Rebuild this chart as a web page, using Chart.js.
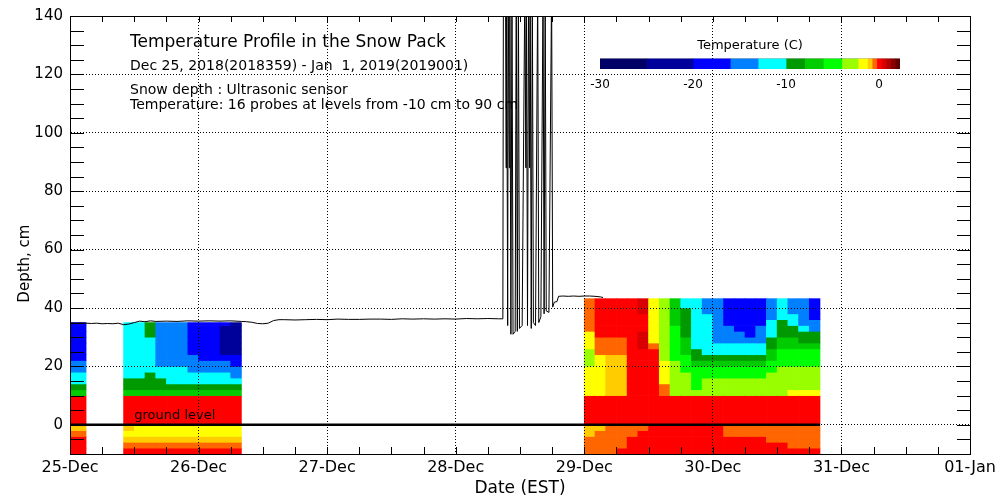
<!DOCTYPE html>
<html>
<head>
<meta charset="utf-8">
<script src="https://cdn.jsdelivr.net/npm/chart.js"></script>
<style>
  html, body { margin: 0; padding: 0; background: #fff; }
  #wrap { position: relative; width: 1000px; height: 500px; }
  #main { position: absolute; left: 0; top: 0; }
  #scale { position: absolute; left: 560px; top: 28px; }
</style>
</head>
<body>
<div id="wrap">
  <canvas id="main" width="1000" height="500"></canvas>
  <canvas id="scale" width="380" height="60"></canvas>
</div>
<script>
Chart.defaults.font.family = "'DejaVu Sans', sans-serif";
Chart.defaults.color = '#000';

// x axis runs in hours from 25-Dec 00:00 EST
const dayLabels = ['25-Dec', '26-Dec', '27-Dec', '28-Dec', '29-Dec', '30-Dec', '31-Dec', '01-Jan'];

// snow depth (ultrasonic), cm
const depthHours = [0, 1, 2, 3, 4, 5, 6, 7, 8, 9, 10, 11, 12, 13, 14, 15, 16, 18, 20, 22,
  24, 26, 28, 30, 32, 33, 34, 35, 36, 37, 38, 39, 40, 42, 44, 46, 48, 50, 52, 54,
  56, 58, 60, 62, 64, 66, 68, 70, 72, 74, 76, 78, 80, 80.8,
  80.9, 81.3, 81.4, 81.5, 81.7, 81.8, 82.0, 82.1, 82.3, 82.5, 82.7, 83.1, 83.3, 83.5, 83.7, 83.9,
  84.4, 84.9, 85.1, 85.2, 85.4, 85.6, 85.8, 85.9, 86.1, 86.3, 86.5, 86.9, 87.3, 87.5, 87.9, 88.3,
  88.5, 88.7, 88.9, 89.4, 89.9, 90.1, 90.4, 90.9, 91.2, 92, 93, 94, 95, 96, 97, 98, 99, 99.5];
const depthCm = [34.9, 34.8, 34.9, 34.8, 34.7, 34.8, 34.6, 34.7, 34.6, 34.8, 34.3, 34.5, 35.0, 35.5, 35.3, 35.6, 35.4, 35.5, 35.4, 35.6,
  35.5, 35.6, 35.5, 35.6, 35.4, 35.3, 35.1, 34.7, 34.6, 34.8, 35.7, 36.0, 36.0, 35.9, 36.0, 36.1, 36.0, 36.2, 36.1, 36.1,
  36.2, 36.2, 36.1, 36.3, 36.2, 36.3, 36.2, 36.3, 36.2, 36.4, 36.3, 36.4, 36.3, 36.3,
  150, 150, 88, 150, 34, 150, 88, 150, 31, 150, 31, 32, 150, 32, 150, 33,
  34, 150, 88, 150, 34, 150, 88, 150, 33, 150, 35, 34, 150, 35, 37, 150,
  38, 150, 39, 38.5, 150, 40.3, 42, 42.2, 44, 44.1, 44, 44.1, 44, 44.1, 44.1, 44, 43.8, 43.6];

const groundHours = [0, 140];

// temperature colour scale, deg C
const tempEdges = [-30, -25, -20, -16, -13, -10, -8, -6, -4, -2.25, -1.25, -0.75, -0.25, 0.25, 0.75, 1.25, 1.75, 2.25];
const tempColors = ['#000066', '#00009a', '#0000ff', '#0080ff', '#00ffff', '#009900', '#00cc00', '#00ff00',
  '#99ff00', '#ffff00', '#ffcc00', '#ff6600', '#ff0000', '#d80000', '#b00000', '#880000', '#600000'];

// block 1: columns (centre hour), layer edges (cm), temperatures bottom -> top
const block1Hours = [0, 2, 11, 13, 15, 17, 19, 21, 23, 25, 27, 29, 31];
const block1Edges = [-10, -8, -6, -4, -2, 0, 10, 12, 14, 16, 18, 20, 22, 24, 26, 28, 30, 32, 34, 35];
const block1Temps = [
  [0, 0, 0, -0.5, -1, 0.1, -7, -9, -11.5, -11.5, -14.5, -14.5, -18, -18, -18, -18, -18, -18, -18],
  [0, 0, 0, -0.5, -1, 0.1, -7, -9, -11.5, -11.5, -14.5, -14.5, -18, -18, -18, -18, -18, -18, -18],
  [0, -0.5, -1, -1.8, -1, 0.1, -7, -9, -9, -11.5, -11.5, -11.5, -11.5, -11.5, -11.5, -11.5, -11.5, -11.5, -11.5],
  [0, -0.5, -1, -1.8, -1.8, 0.1, -7, -9, -9, -11.5, -11.5, -11.5, -11.5, -11.5, -11.5, -11.5, -11.5, -11.5, -11.5],
  [0, -0.5, -1, -1.8, -1.8, 0.1, -7, -9, -9, -9, -11.5, -11.5, -11.5, -11.5, -11.5, -11.5, -9, -9, -9],
  [0, -0.5, -1, -1.8, -1.8, 0.1, -7, -9, -9, -11.5, -11.5, -14.5, -14.5, -14.5, -14.5, -14.5, -14.5, -14.5, -14.5],
  [0, -0.5, -1, -1.8, -1.8, 0.1, -7, -9, -11.5, -11.5, -11.5, -14.5, -14.5, -14.5, -14.5, -14.5, -14.5, -14.5, -14.5],
  [0, -0.5, -1, -1.8, -1.8, 0.1, -7, -9, -11.5, -11.5, -11.5, -14.5, -14.5, -14.5, -14.5, -14.5, -14.5, -14.5, -14.5],
  [0, -0.5, -1, -1.8, -1.8, 0.1, -7, -9, -11.5, -11.5, -14.5, -14.5, -14.5, -18, -18, -18, -18, -18, -18],
  [0, -0.5, -1, -1.8, -1.8, 0.1, -7, -9, -11.5, -11.5, -14.5, -14.5, -18, -18, -18, -18, -18, -18, -18],
  [0, -0.5, -1, -1.8, -1.8, 0.1, -7, -9, -11.5, -11.5, -14.5, -14.5, -18, -18, -18, -18, -18, -18, -18],
  [0, -0.5, -1, -1.8, -1.8, 0.1, -7, -9, -11.5, -11.5, -14.5, -14.5, -18, -22, -22, -22, -22, -22, -18],
  [0, -0.5, -1, -1.8, -1.8, 0.1, -7, -9, -11.5, -14.5, -14.5, -18, -18, -22, -22, -22, -22, -22, -22]
];

// block 2 (from 29-Dec)
const block2Hours = [97, 99, 101, 103, 105, 107, 109, 111, 113, 115, 117, 119, 121, 123, 125, 127, 129, 131, 133, 135, 137, 139];
const block2Edges = [-10, -8, -6, -4, -2, 0, 10, 12, 14, 16, 18, 20, 22, 24, 26, 28, 30, 32, 34, 36, 38, 40, 43.2];
const block2Temps = [
  [-0.5, -0.5, -0.5, -1, -1, 0.1, -1.8, -1.8, -1.8, -1.8, -1.8, -2.5, -2.5, -2.5, -1.8, -1.8, -1.8, -0.5, -0.5, -0.5, -0.5, -0.5],
  [-0.5, -0.5, -0.5, -0.5, -1, 0.1, -1.8, -1.8, -1.8, -1.8, -1.8, -1.8, -1.8, -0.5, -0.5, -0.5, 0, 0, 0, 0, 0, 0],
  [-0.5, -0.5, -0.5, -0.5, -0.5, 0.1, -1, -1, -1, -1, -1, -1, -1, -0.5, -0.5, -0.5, 0, 0, 0, 0, 0, 0],
  [0, -0.5, -0.5, -0.5, -0.5, 0.1, -1, -1, -1, -1, -1, -1, -1, -0.5, -0.5, -0.5, 0, 0, 0, 0, 0, 0],
  [0, 0, 0, -0.5, -0.5, 0.1, 0, 0, 0, 0, 0, 0, 0, 0, 0, 0, 0, 0, 0, 0, 0, 0],
  [0, 0, 0, 0, -0.5, 0.1, 0, 0, 0, 0, 0, 0, 0, 0, 0.5, 0.5, 0.5, 0, 0, 0, 0.5, 0.5],
  [0, 0, 0, 0, 0, 0.1, 0, 0, 0, 0, 0, 0, 0, 0, -0.5, -1.8, -1.8, -1.8, -1.8, -1.8, -1.8, -1.8],
  [0, 0, 0, 0, 0, 0.1, -0.5, -0.5, -1.8, -1.8, -1.8, -1.8, -3.2, -3.2, -3.2, -3.2, -3.2, -3.2, -3.2, -3.2, -3.2, -3.2],
  [0, 0, 0, 0, 0, 0.1, -3.2, -3.2, -3.2, -3.2, -3.2, -3.2, -5, -5, -5, -5, -5, -5, -7, -7, -7, -7],
  [0, 0, 0, 0, 0, 0.1, -3.2, -3.2, -3.2, -3.2, -5, -5, -5, -7, -7, -7, -9, -9, -9, -9, -9, -11.5],
  [0, 0, 0, 0, 0, 0.1, -3.2, -5, -5, -5, -5, -7, -9, -9, -11.5, -11.5, -11.5, -11.5, -11.5, -11.5, -11.5, -11.5],
  [0, 0, 0, 0, 0, 0.1, -3.2, -3.2, -3.2, -5, -5, -7, -9, -11.5, -11.5, -11.5, -11.5, -11.5, -11.5, -11.5, -14.5, -14.5],
  [0, 0, 0, 0, 0, 0.1, -3.2, -3.2, -3.2, -5, -5, -7, -9, -11.5, -11.5, -14.5, -14.5, -14.5, -14.5, -14.5, -14.5, -14.5],
  [0, 0, 0, -0.5, -0.5, 0.1, -3.2, -3.2, -3.2, -5, -5, -7, -9, -11.5, -11.5, -14.5, -14.5, -14.5, -18, -18, -18, -18],
  [0, 0, 0, -0.5, -0.5, 0.1, -3.2, -3.2, -3.2, -5, -5, -7, -9, -11.5, -11.5, -14.5, -14.5, -18, -18, -18, -18, -18],
  [0, 0, 0, -0.5, -0.5, 0.1, -3.2, -3.2, -3.2, -5, -5, -7, -9, -11.5, -11.5, -14.5, -18, -18, -18, -18, -18, -18],
  [0, 0, 0, -0.5, -0.5, 0.1, -3.2, -3.2, -3.2, -5, -5, -7, -9, -11.5, -11.5, -14.5, -14.5, -14.5, -18, -18, -18, -18],
  [0, 0, -0.5, -0.5, -0.5, 0.1, -3.2, -3.2, -3.2, -3.2, -5, -5, -7, -7, -9, -9, -11.5, -11.5, -11.5, -14.5, -14.5, -14.5],
  [0, 0, -0.5, -0.5, -0.5, 0.1, -3.2, -3.2, -3.2, -3.2, -3.2, -5, -5, -5, -7, -7, -9, -9, -9, -11.5, -11.5, -11.5],
  [0, -0.5, -0.5, -0.5, -0.5, 0.1, -1.8, -3.2, -3.2, -3.2, -3.2, -5, -5, -5, -7, -7, -9, -9, -11.5, -11.5, -14.5, -14.5],
  [0, -0.5, -0.5, -0.5, -0.5, 0.1, -1.8, -3.2, -3.2, -3.2, -3.2, -5, -5, -5, -7, -9, -9, -11.5, -14.5, -14.5, -14.5, -14.5],
  [0, -0.5, -0.5, -0.5, -0.5, 0.1, -1.8, -3.2, -3.2, -3.2, -3.2, -5, -5, -5, -7, -9, -9, -14.5, -14.5, -18, -18, -18]
];

function tempColor(t) {
  for (let i = 0; i < tempColors.length; i++) {
    if (t < tempEdges[i + 1]) return tempColors[i];
  }
  return tempColors[tempColors.length - 1];
}

function cells(hours, edges, temps) {
  const out = [];
  hours.forEach((h, i) => {
    temps[i].forEach((t, k) => {
      out.push({x: h, y: [edges[k], edges[k + 1]], t: t});
    });
  });
  return out;
}

const heat = cells(block1Hours, block1Edges, block1Temps).concat(cells(block2Hours, block2Edges, block2Temps));

// inward tick marks and the top/right sides of the frame
const frame = {
  id: 'frame',
  afterDraw(chart) {
    const {ctx, chartArea: a, scales: {x, y}} = chart;
    ctx.save();
    ctx.strokeStyle = '#000';
    ctx.lineWidth = 1;
    ctx.beginPath();
    x.ticks.forEach(t => {
      if (t.value <= x.min || t.value >= x.max) return;
      const px = Math.round(x.getPixelForValue(t.value)) + 0.5;
      ctx.moveTo(px, a.bottom); ctx.lineTo(px, a.bottom - 7);
      ctx.moveTo(px, a.top); ctx.lineTo(px, a.top + 6);
    });
    y.ticks.forEach(t => {
      if (t.value <= y.min || t.value >= y.max) return;
      const py = Math.round(y.getPixelForValue(t.value)) + 0.5;
      ctx.moveTo(a.left, py); ctx.lineTo(a.left + 14, py);
      ctx.moveTo(a.right, py); ctx.lineTo(a.right - 13, py);
    });
    const top = Math.round(a.top) + 0.5, right = Math.round(a.right) + 0.5;
    ctx.moveTo(a.left, top); ctx.lineTo(right, top); ctx.lineTo(right, a.bottom);
    ctx.stroke();
    ctx.restore();
  }
};

const notes = {
  id: 'notes',
  afterDraw(chart) {
    const {ctx, chartArea: a, scales: {x, y}} = chart;
    ctx.save();
    ctx.fillStyle = '#000';
    ctx.textBaseline = 'alphabetic';
    ctx.font = "17px 'DejaVu Sans'";
    ctx.fillText('Temperature Profile in the Snow Pack', a.left + 60, a.top + 31);
    ctx.font = "14px 'DejaVu Sans'";
    ctx.fillText('Dec 25, 2018(2018359) - Jan  1, 2019(2019001)', a.left + 60, a.top + 54);
    ctx.fillText('Snow depth : Ultrasonic sensor', a.left + 60, a.top + 78);
    ctx.fillText('Temperature: 16 probes at levels from -10 cm to 90 cm', a.left + 60, a.top + 93);
    ctx.font = "13px 'DejaVu Sans'";
    ctx.fillText('ground level', x.getPixelForValue(12), y.getPixelForValue(2));
    ctx.restore();
  }
};

new Chart(document.getElementById('main'), {
  type: 'bar',
  data: {
    datasets: [
      {
        type: 'line',
        data: depthHours.map((h, i) => ({x: h, y: depthCm[i]})),
        borderColor: '#000',
        borderWidth: 1,
        pointRadius: 0,
        tension: 0,
        order: 1
      },
      {
        type: 'line',
        data: groundHours.map(h => ({x: h, y: 0})),
        borderColor: '#000',
        borderWidth: 2.5,
        pointRadius: 0,
        order: 2
      },
      {
        data: heat,
        backgroundColor: c => tempColor(c.raw.t),
        barPercentage: 1,
        categoryPercentage: 1,
        clip: 0,
        order: 3
      }
    ]
  },
  options: {
    responsive: false,
    animation: false,
    layout: {padding: {top: 15, right: 30, left: 0, bottom: 0}},
    plugins: {legend: {display: false}, tooltip: {enabled: false}},
    scales: {
      x: {
        type: 'linear',
        min: 0,
        max: 168,
        offset: false,
        afterFit: s => { s.height = 46; },
        grid: {
          offset: false,
          z: 1,
          drawTicks: false,
          color: c => (c.tick && c.tick.value % 24 === 0) ? '#000' : 'rgba(0,0,0,0)'
        },
        border: {color: '#000', width: 1, dash: [1, 2], z: 2},
        ticks: {
          stepSize: 6,
          autoSkip: false,
          maxRotation: 0,
          padding: 4,
          font: {size: 16},
          callback: v => v % 24 === 0 ? dayLabels[v / 24] : ''
        },
        title: {display: true, text: 'Date (EST)', font: {size: 17}, padding: {top: 0, bottom: 1}}
      },
      y: {
        min: -10,
        max: 140,
        afterFit: s => { s.width = 70; },
        grid: {
          z: 1,
          drawTicks: false,
          color: c => (c.tick && c.tick.value % 20 === 0) ? '#000' : 'rgba(0,0,0,0)'
        },
        border: {color: '#000', width: 1, dash: [1, 2], z: 2},
        ticks: {
          stepSize: 5,
          autoSkip: false,
          padding: 7,
          font: {size: 15},
          callback: v => v % 20 === 0 ? String(v) : ''
        },
        title: {display: true, text: 'Depth, cm            ', font: {size: 15}, padding: {top: 16, bottom: 0}}
      }
    }
  },
  plugins: [frame, notes]
});

// colour bar
const barSets = tempColors.map((c, i) => ({
  data: [[tempEdges[i], tempEdges[i + 1]]],
  backgroundColor: c,
  grouped: false,
  barPercentage: 1,
  categoryPercentage: 1
}));
barSets.push({
  data: [[tempEdges[0], tempEdges[tempEdges.length - 1]]],
  backgroundColor: 'rgba(0,0,0,0)',
  borderColor: '#000',
  borderWidth: 1,
  borderSkipped: false,
  grouped: false,
  barPercentage: 1,
  categoryPercentage: 1
});

new Chart(document.getElementById('scale'), {
  type: 'bar',
  data: {labels: [''], datasets: barSets},
  options: {
    indexAxis: 'y',
    responsive: false,
    animation: false,
    layout: {padding: {left: 40, right: 40, top: 6, bottom: 0}},
    plugins: {
      legend: {display: false},
      tooltip: {enabled: false},
      title: {display: true, text: 'Temperature (C)', font: {size: 13, weight: 'normal'}, color: '#000', padding: {top: 4, bottom: 5}}
    },
    scales: {
      y: {display: false},
      x: {
        type: 'linear',
        min: tempEdges[0],
        max: tempEdges[tempEdges.length - 1],
        afterFit: s => { s.height = 19; },
        grid: {display: false},
        border: {display: false},
        ticks: {
          stepSize: 5,
          includeBounds: false,
          autoSkip: false,
          maxRotation: 0,
          padding: 1,
          font: {size: 12},
          callback: v => v % 10 === 0 ? String(v) : ''
        }
      }
    }
  }
});
</script>
</body>
</html>
